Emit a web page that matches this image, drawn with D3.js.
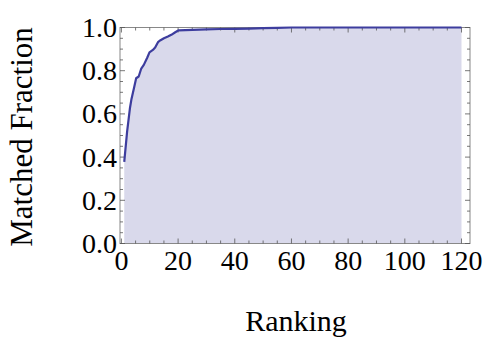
<!DOCTYPE html>
<html lang="en">
<head>
<meta charset="UTF-8">
<title>Matched Fraction vs Ranking</title>
<script src="https://d3js.org/d3.v7.min.js"></script>
<style>
  body { margin: 0; padding: 0; background: #fff; }
  text { font-family: "Liberation Serif", "DejaVu Serif", serif; fill: #000; }
</style>
</head>
<body>
<div id="chart"></div>
<script>
// rank and matched fraction
const ranks = [1, 2, 3, 3.5, 4.4, 5.2, 6.1, 7, 7.9, 9.1, 9.9, 11.1, 11.9, 12.9, 13.8, 15, 16.4, 17.6, 19, 20.2, 25, 30, 35, 40, 45, 50, 55, 60, 80, 100, 120];
const fractions = [0.378, 0.517, 0.626, 0.665, 0.718, 0.765, 0.773, 0.81, 0.827, 0.86, 0.885, 0.896, 0.907, 0.932, 0.941, 0.95, 0.958, 0.966, 0.978, 0.987, 0.989, 0.991, 0.993, 0.994, 0.995, 0.997, 0.998, 1.0, 1.0, 1.0, 1.0];
const xTicks = [0, 20, 40, 60, 80, 100, 120];
const yTicks = [0.0, 0.2, 0.4, 0.6, 0.8, 1.0];

const width = 488, height = 339;
const plotLeft = 120, plotRight = 470, plotTop = 27.5, plotBottom = 243.5;

const svg = d3.select("#chart").append("svg")
    .attr("width", width)
    .attr("height", height);

const x = d3.scaleLinear().domain([-0.5, 123]).range([plotLeft, plotRight]);
const y = d3.scaleLinear().domain([0, 1]).range([plotBottom, plotTop]);

const data = ranks.map((r, i) => ({ r: r, f: fractions[i] }));

// filled area under the curve
svg.append("path")
    .datum(data)
    .attr("fill", "#d9d9eb")
    .attr("d", d3.area().x(d => x(d.r)).y0(y(0)).y1(d => y(d.f)));

// frame
svg.append("rect")
    .attr("x", plotLeft).attr("y", plotTop)
    .attr("width", plotRight - plotLeft).attr("height", plotBottom - plotTop)
    .attr("fill", "none")
    .attr("stroke", "#888")
    .attr("stroke-width", 1);

// ticks pointing inward on all four sides
const xMinor = d3.range(0, 121, 5);
const yMinor = d3.range(0, 1.001, 0.05);
const tickG = svg.append("g").attr("stroke", "#555").attr("stroke-width", 0.8);

xMinor.forEach(v => {
    const len = v % 20 === 0 ? 5 : 3;
    tickG.append("line").attr("x1", x(v)).attr("x2", x(v)).attr("y1", plotBottom).attr("y2", plotBottom - len);
    tickG.append("line").attr("x1", x(v)).attr("x2", x(v)).attr("y1", plotTop).attr("y2", plotTop + len);
});
yMinor.forEach((v, i) => {
    const len = i % 4 === 0 ? 5 : 3;
    tickG.append("line").attr("y1", y(v)).attr("y2", y(v)).attr("x1", plotLeft).attr("x2", plotLeft + len);
    tickG.append("line").attr("y1", y(v)).attr("y2", y(v)).attr("x1", plotRight).attr("x2", plotRight - len);
});

// curve
svg.append("path")
    .datum(data)
    .attr("fill", "none")
    .attr("stroke", "#3d3d9e")
    .attr("stroke-width", 2.2)
    .attr("stroke-linejoin", "round")
    .attr("d", d3.line().x(d => x(d.r)).y(d => y(d.f)));

// tick labels
svg.selectAll(".xlab")
    .data(xTicks)
    .enter().append("text")
    .attr("x", d => x(d))
    .attr("y", 270)
    .attr("text-anchor", "middle")
    .attr("font-size", 28)
    .text(d => d);

svg.selectAll(".ylab")
    .data(yTicks)
    .enter().append("text")
    .attr("x", 117)
    .attr("y", d => y(d) + 9.5)
    .attr("text-anchor", "end")
    .attr("font-size", 28)
    .text(d => d3.format(".1f")(d));

// axis titles
svg.append("text")
    .attr("x", 296)
    .attr("y", 331)
    .attr("text-anchor", "middle")
    .attr("font-size", 30)
    .text("Ranking");

svg.append("text")
    .attr("transform", "translate(32,137) rotate(-90)")
    .attr("text-anchor", "middle")
    .attr("font-size", 31)
    .text("Matched Fraction");
</script>
</body>
</html>
